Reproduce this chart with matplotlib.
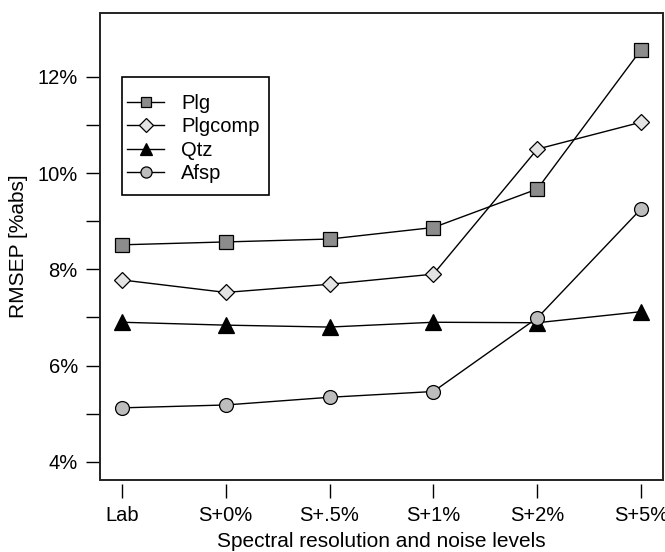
import numpy as np
import matplotlib
matplotlib.use("Agg")
import matplotlib.pyplot as plt
from matplotlib.patches import Rectangle

plt.rcParams['font.family'] = ['Liberation Sans', 'DejaVu Sans']

# -------------------------
# data
# -------------------------
levels = ["Lab", "S+0%", "S+.5%", "S+1%", "S+2%", "S+5%"]
plg     = [8.51, 8.57, 8.63, 8.87, 9.67, 12.57]
plgcomp = [7.78, 7.52, 7.69, 7.90, 10.50, 11.06]
qtz     = [6.90, 6.84, 6.80, 6.90, 6.89, 7.12]
afsp    = [5.12, 5.18, 5.34, 5.46, 6.99, 9.26]

yticks_major = [4, 6, 8, 10, 12]
yticks_minor = [5, 7, 9, 11]

x = np.arange(len(levels))

fig = plt.figure(figsize=(6.65, 5.52), dpi=100)
ax = fig.add_axes([100/665, 72/552, 563/665, 467/552])

kw = dict(color="black", lw=1.0, mec="black", mew=0.9)
ax.plot(x, plg, marker="s", ms=9.5, mfc="#8c8c8c", label="Plg", **kw)
ax.plot(x, plgcomp, marker="D", ms=8.5, mfc="#e4e4e4", label="Plgcomp", **kw)
ax.plot(x, qtz, marker="^", ms=11, mfc="black", label="Qtz", **kw)
ax.plot(x, afsp, marker="o", ms=10, mfc="#bdbdbd", label="Afsp", **kw)

ax.set_xlim(-0.21, 5.21)
ax.set_ylim(3.62, 13.33)

ax.set_xticks(x)
ax.set_xticklabels(levels)
ax.set_yticks(yticks_major)
ax.set_yticklabels([f"{v}%" for v in yticks_major])
ax.set_yticks(yticks_minor, minor=True)

ax.tick_params(axis="both", which="both", direction="out", length=10, width=1.0,
               labelsize=14.5, color="black")
ax.tick_params(axis="x", pad=5.5)
ax.tick_params(axis="y", pad=6)

# R-style: x ticks a bit below the box
for s in ax.spines.values():
    s.set_color("none")
ax.spines["bottom"].set_position(("outward", 3))
ax.add_patch(Rectangle((0, 0), 1, 1, transform=ax.transAxes, fill=False,
                       lw=1.4, ec="#222222", clip_on=False, zorder=5))

ax.set_xlabel("Spectral resolution and noise levels", fontsize=15, labelpad=5.5)
ax.set_ylabel("RMSEP [%abs]", fontsize=15, labelpad=7)

# legend: entries without frame, box drawn separately
leg = ax.legend(loc="upper left", bbox_to_anchor=(27/563, 386/467),
                fontsize=14.5, frameon=False, borderpad=0, labelspacing=0.22,
                handlelength=1.85, handletextpad=0.85, borderaxespad=0,
                markerscale=0.8)
ax.add_patch(Rectangle((22/563, 285/467), 147/563, 118/467, transform=ax.transAxes,
                       fill=False, lw=1.2, ec="black", zorder=4))

fig.savefig("out.png", dpi=100)
